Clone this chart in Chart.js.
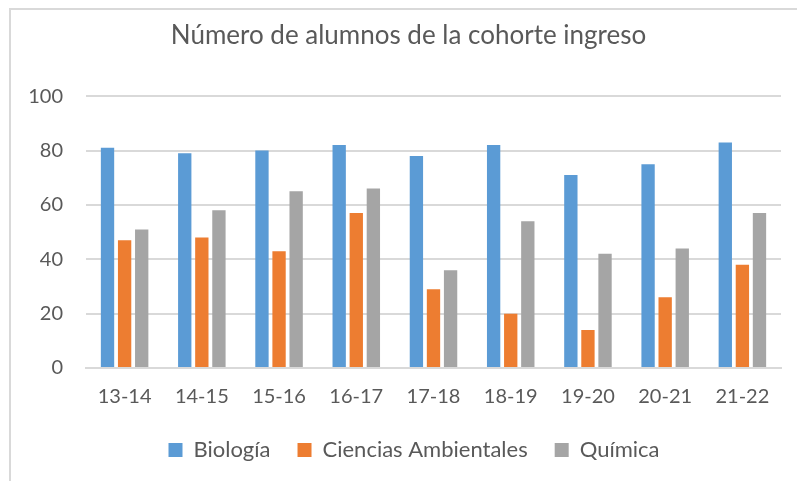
<!DOCTYPE html>
<html>
<head>
<meta charset="utf-8">
<script src="https://cdn.jsdelivr.net/npm/chart.js@4/dist/chart.umd.min.js"></script>
<style>
  body { margin: 0; background: #fff; }
  #wrap { position: relative; width: 797px; height: 481px; }
  #frame { position: absolute; left: 9px; top: 8px; right: 0; bottom: 0;
           border-top: 2px solid #d9d9d9; border-left: 2px solid #d9d9d9; }
  canvas { position: absolute; left: 0; top: 0; }
</style>
</head>
<body>
<div id="wrap">
  <div id="frame"></div>
  <canvas id="chart" width="797" height="481"></canvas>
</div>
<script>
const cohorts = ['13-14', '14-15', '15-16', '16-17', '17-18', '18-19', '19-20', '20-21', '21-22'];
const biologia = [81, 79, 80, 82, 78, 82, 71, 75, 83];
const cienciasAmbientales = [47, 48, 43, 57, 29, 20, 14, 26, 38];
const quimica = [51, 58, 65, 66, 36, 54, 42, 44, 57];

const textColor = '#595959';
const fontFamily = 'Lato, "Open Sans", sans-serif';

// title and legend sit a bit right of the canvas centre, legend a bit higher
const nudgeBlocks = {
  id: 'nudgeBlocks',
  afterLayout(chart) {
    chart.titleBlock.left += 36;
    chart.legend.left += 47;
    chart.legend.top -= 14;
    chart.legend.bottom -= 14;
  }
};

const ctx = document.getElementById('chart').getContext('2d');
new Chart(ctx, {
  type: 'bar',
  data: {
    labels: cohorts,
    datasets: [
      { label: 'Biología', data: biologia, backgroundColor: '#5B9BD5' },
      { label: 'Ciencias Ambientales', data: cienciasAmbientales, backgroundColor: '#ED7D31' },
      { label: 'Química', data: quimica, backgroundColor: '#A5A5A5' }
    ]
  },
  plugins: [nudgeBlocks],
  options: {
    responsive: false,
    animation: false,
    categoryPercentage: 0.664,
    barPercentage: 0.78,
    layout: { padding: { left: 0, right: 16, top: 0, bottom: 0 } },
    plugins: {
      title: {
        display: true,
        text: 'Número de alumnos de la cohorte ingreso',
        color: textColor,
        font: { family: fontFamily, size: 26, weight: 'normal' },
        padding: { top: 20, bottom: 45 }
      },
      legend: {
        position: 'bottom',
        maxHeight: 55,
        labels: {
          color: textColor,
          font: { family: fontFamily, size: 22 },
          boxWidth: 14,
          boxHeight: 14,
          padding: 27
        }
      },
      tooltip: { enabled: false }
    },
    scales: {
      x: {
        grid: { display: false, drawTicks: false },
        border: { color: '#d9d9d9', width: 2 },
        ticks: { color: textColor, font: { family: fontFamily, size: 20 }, padding: 17 }
      },
      y: {
        min: 0,
        max: 100,
        ticks: { stepSize: 20, color: textColor, font: { family: fontFamily, size: 20 }, padding: 23 },
        grid: { color: '#d9d9d9', lineWidth: 2, drawTicks: false },
        border: { display: false },
        afterFit: (scale) => { scale.width = 86; }
      }
    }
  }
});
</script>
</body>
</html>
